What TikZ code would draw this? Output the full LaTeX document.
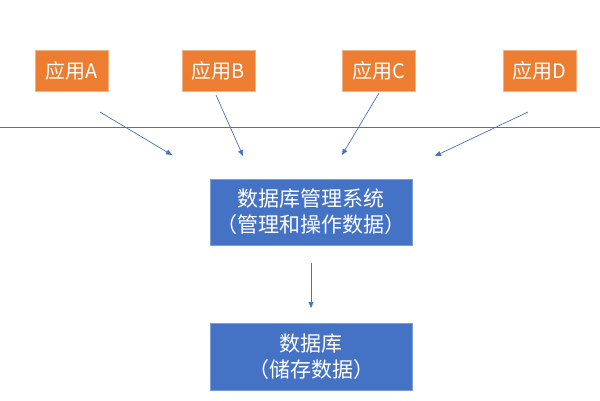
\documentclass[tikz,border=0pt]{standalone}
\usepackage{fontspec}
\newfontfamily\cjk{Noto Sans CJK SC}
\usetikzlibrary{arrows.meta}
\definecolor{appor}{HTML}{ED7D31}
\definecolor{dbblue}{HTML}{4472C4}
\begin{document}
\begin{tikzpicture}[x=1pt,y=-1pt,
  app/.style={fill=appor,draw=appor!60!white,line width=0.6pt,text=white,font=\cjk\fontsize{20}{24}\selectfont,minimum width=73pt,minimum height=41pt,inner sep=0pt},
  sys/.style={fill=dbblue,draw=dbblue!70!white,line width=0.6pt,text=white,font=\cjk\fontsize{21}{26}\selectfont,minimum width=202pt,inner sep=0pt,align=center},
  conn/.style={draw=dbblue,line width=0.7pt,-{Triangle[length=6pt,width=5pt]}}]
\useasboundingbox (0,0) rectangle (600,400);
\node[app] (A) at (71.5,70.5) {应用A};
\node[app] (B) at (218.5,70.5) {应用B};
\node[app] (C) at (378.5,70.5) {应用C};
\node[app] (D) at (539.5,70.5) {应用D};
\coordinate (L1) at (0,127);
\coordinate (L2) at (600,127);
\draw[dbblue,line width=0.7pt] (L1) -- (L2);
\coordinate (a0) at (100,112); \coordinate (a1) at (172,155);
\coordinate (b0) at (216,95);  \coordinate (b1) at (243,156);
\coordinate (c0) at (379,93);  \coordinate (c1) at (342,155);
\coordinate (d0) at (528,112); \coordinate (d1) at (435,156);
\draw[conn] (a0) -- (a1);
\draw[conn] (b0) -- (b1);
\draw[conn] (c0) -- (c1);
\draw[conn] (d0) -- (d1);
\node[sys,minimum height=66pt] (M) at (311,212) {数据库管理系统\\（管理和操作数据）};
\node[sys,minimum height=67pt] (S) at (311,356.5) {数据库\\（储存数据）};
\coordinate (m0) at (311,263); \coordinate (m1) at (311,308);
\draw[conn] (m0) -- (m1);
\end{tikzpicture}
\end{document}
